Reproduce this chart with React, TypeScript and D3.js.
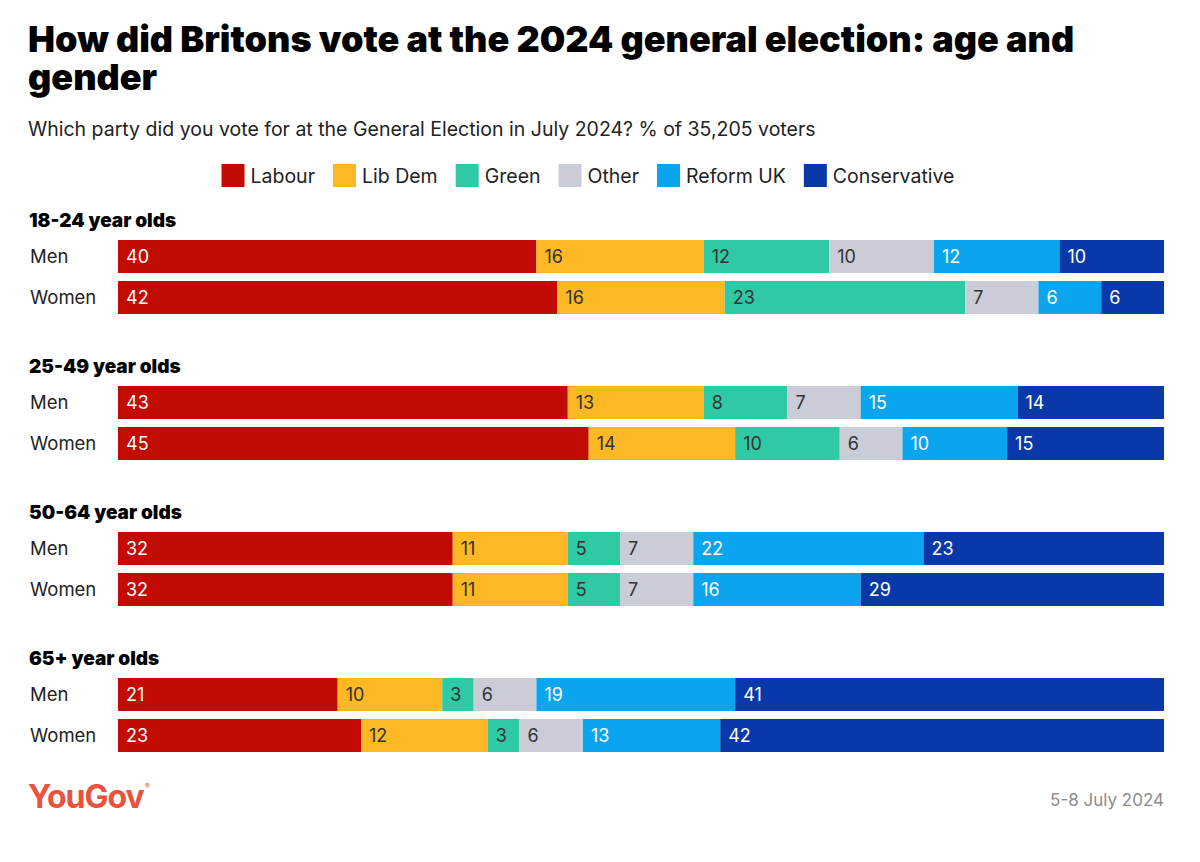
import React, { useEffect, useRef } from 'react';
import * as d3 from 'd3';

// parties in stacking order
const parties = ["Labour", "Lib Dem", "Green", "Other", "Reform UK", "Conservative"];
const partyColors = ["#c20b03", "#fdb824", "#2fc9a6", "#cacdd7", "#0aa5ee", "#0939a8"];
const labelColors = ["#ffffff", "#333333", "#333333", "#333333", "#ffffff", "#ffffff"];

const ageGroups = ["18-24 year olds", "25-49 year olds", "50-64 year olds", "65+ year olds"];
const genders = ["Men", "Women"];

const menShares = [
  [40, 16, 12, 10, 12, 10],
  [43, 13, 8, 7, 15, 14],
  [32, 11, 5, 7, 22, 23],
  [21, 10, 3, 6, 19, 41],
];
const womenShares = [
  [42, 16, 23, 7, 6, 6],
  [45, 14, 10, 6, 10, 15],
  [32, 11, 5, 7, 16, 29],
  [23, 12, 3, 6, 13, 42],
];

const titleLines = ["How did Britons vote at the 2024 general election: age and", "gender"];
const subtitle = "Which party did you vote for at the General Election in July 2024? % of 35,205 voters";
const dateNote = "5-8 July 2024";

export default function App() {
  const svgRef = useRef<SVGSVGElement>(null);
  const width = 1200;
  const height = 862;

  useEffect(() => {
    if (!svgRef.current) return;
    const svg = d3.select(svgRef.current);
    svg.selectAll("*").remove();

    const bodyFont = "Inter, Roboto, sans-serif";
    const left = 28;
    const barLeft = 118;
    const barRight = 1164;

    svg.append("rect").attr("width", width).attr("height", height).attr("fill", "#ffffff");

    // title + subtitle
    svg.selectAll("text.title").data(titleLines).enter().append("text")
      .attr("class", "title")
      .attr("x", left).attr("y", (_, i) => 52 + i * 38)
      .attr("fill", "#000").style("font-family", bodyFont).style("font-weight", 900)
      .style("font-size", "36px")
      .text(d => d);

    svg.append("text").attr("x", left).attr("y", 136).attr("fill", "#222")
      .style("font-family", bodyFont).style("font-size", "19.5px").text(subtitle);

    // legend, centred
    const legend = svg.append("g");
    const items = legend.selectAll("g").data(parties).enter().append("g");
    items.append("rect").attr("width", 23).attr("height", 23).attr("y", 164).attr("fill", (_, i) => partyColors[i]);
    items.append("text").attr("x", 29).attr("y", 182.5).attr("fill", "#222")
      .style("font-family", bodyFont).style("font-size", "19.5px").text(d => d);
    let cursor = 0;
    items.each(function () {
      const g = d3.select(this);
      g.attr("transform", `translate(${cursor},0)`);
      const w = (g.select("text").node() as SVGTextElement).getComputedTextLength();
      cursor += 29 + w + 18;
    });
    const legendW = cursor - 18;
    legend.attr("transform", `translate(${588 - legendW / 2},0)`);

    // groups
    const groupY = d3.scaleLinear().domain([0, ageGroups.length - 1]).range([240, 678]);
    const rowY = d3.scaleBand().domain(genders).range([0, 74]).paddingInner(0.195);

    ageGroups.forEach((grp, gi) => {
      const g = svg.append("g").attr("transform", `translate(0,${groupY(gi)})`);
      g.append("text").attr("x", left + 1).attr("y", -13).attr("fill", "#000")
        .style("font-family", bodyFont).style("font-weight", 900).style("font-size", "19px")
        .text(grp);

      [menShares[gi], womenShares[gi]].forEach((vals, ri) => {
        const gender = genders[ri];
        const y0 = rowY(gender)!;
        const bh = rowY.bandwidth();
        const x = d3.scaleLinear().domain([0, d3.sum(vals)]).range([barLeft, barRight]);
        const ends = Array.from(d3.cumsum(vals));
        const segs = vals.map((v, i) => ({ v, i, start: ends[i] - v, end: ends[i] }));

        g.append("text").attr("x", left + 2).attr("y", y0 + bh / 2).attr("dy", "0.35em")
          .attr("fill", "#222").style("font-family", bodyFont).style("font-size", "18.5px").text(gender);

        const row = g.append("g");
        row.selectAll("rect").data(segs).enter().append("rect")
          .attr("x", d => x(d.start)).attr("width", d => x(d.end) - x(d.start))
          .attr("y", y0).attr("height", bh).attr("fill", d => partyColors[d.i]);
        row.selectAll("text").data(segs).enter().append("text")
          .attr("x", d => x(d.start) + 8).attr("y", y0 + bh / 2).attr("dy", "0.35em")
          .attr("fill", d => labelColors[d.i]).style("font-family", bodyFont).style("font-size", "18px")
          .text(d => d.v);
      });
    });

    // footer
    svg.append("text").attr("x", left).attr("y", 808).attr("fill", "#e8523f")
      .style("font-family", bodyFont).style("font-weight", 700)
      .style("font-size", "32px").style("letter-spacing", "-1px").text("YouGov");
    svg.append("text").attr("x", 145).attr("y", 789).attr("fill", "#e8523f")
      .style("font-family", bodyFont).style("font-size", "7px").text("®");
    svg.append("text").attr("x", barRight).attr("y", 806).attr("text-anchor", "end").attr("fill", "#8c8c8c")
      .style("font-family", bodyFont).style("font-size", "17px").text(dateNote);
  }, []);

  return (
    <svg ref={svgRef} width={width} height={height} viewBox={`0 0 ${width} ${height}`}
      style={{ position: "absolute", left: 0, top: 0, display: "block" }} />
  );
}
